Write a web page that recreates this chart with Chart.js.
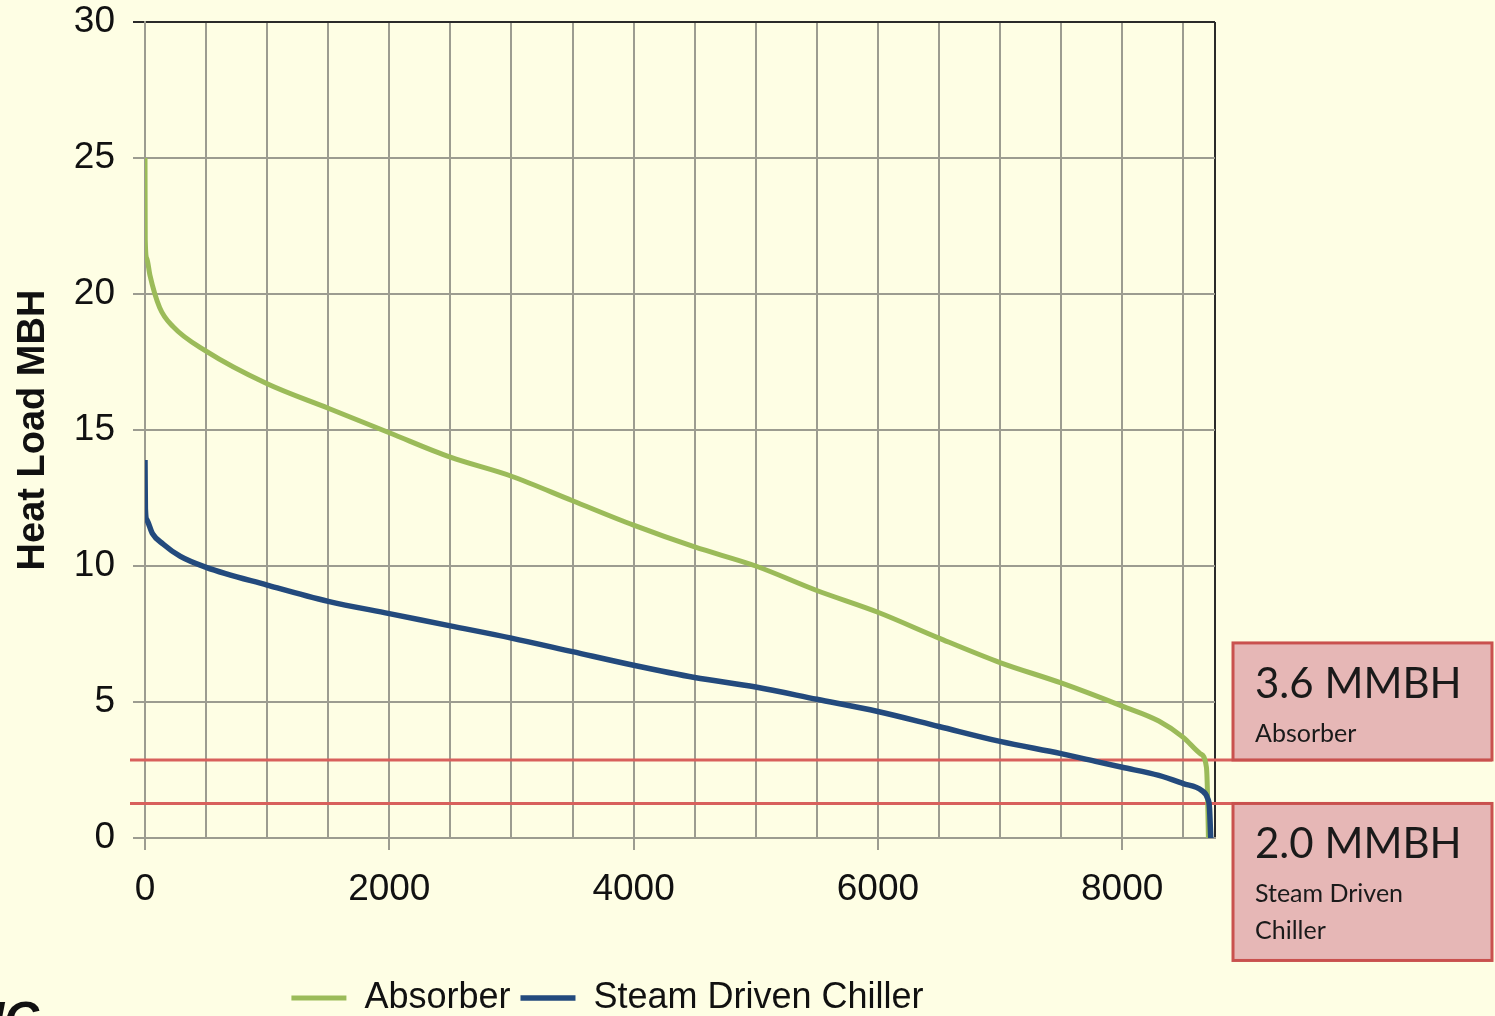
<!DOCTYPE html>
<html>
<head>
<meta charset="utf-8">
<script src="https://cdn.jsdelivr.net/npm/chart.js@4"></script>
<style>
  html,body{margin:0;padding:0;background:#fefee4;overflow:hidden}
  #wrap{position:relative;width:1495px;height:1016px}
  #frag{position:absolute;left:-9px;top:995px;font:italic bold 48px "Liberation Sans",Arial,sans-serif;line-height:1;color:#111}
</style>
</head>
<body>
<div id="wrap"><canvas id="c"></canvas><div id="frag">IC</div></div>
<script>
// load duration curves, hours of the year vs heat load
const absorberHours = [0, 2, 15, 40, 120, 230, 500, 1000, 1500, 2000, 2500, 3000, 3500, 4000, 4500, 5000, 5500, 6000, 6500, 7000, 7500, 8000, 8300, 8500, 8640, 8690, 8700, 8706];
const absorberLoad  = [25, 22, 21.3, 20.7, 19.5, 18.8, 17.9, 16.7, 15.8, 14.9, 14.0, 13.3, 12.4, 11.5, 10.7, 10.0, 9.1, 8.3, 7.35, 6.45, 5.7, 4.85, 4.3, 3.7, 3.1, 2.6, 1.4, 0];
const chillerHours  = [0, 3, 15, 60, 150, 290, 500, 1000, 1500, 2000, 2500, 3000, 3500, 4000, 4500, 5000, 5500, 6000, 6500, 7000, 7500, 7800, 8000, 8300, 8500, 8650, 8700, 8715, 8725];
const chillerLoad   = [13.9, 12.1, 11.7, 11.2, 10.8, 10.35, 9.95, 9.3, 8.7, 8.25, 7.8, 7.35, 6.85, 6.35, 5.9, 5.55, 5.1, 4.65, 4.1, 3.55, 3.1, 2.8, 2.6, 2.3, 2.0, 1.75, 1.45, 1.1, 0];
const seriesNames = ['Absorber', 'Steam Driven Chiller'];
const hourGrid = [0, 500, 1000, 1500, 2000, 2500, 3000, 3500, 4000, 4500, 5000, 5500, 6000, 6500, 7000, 7500, 8000, 8500, 8760];
const hourLabels = [0, 2000, 4000, 6000, 8000];
const loadTicks = [0, 5, 10, 15, 20, 25, 30];
const thresholds = [2.87, 1.27];
const boxTitles = ['3.6 MMBH', '2.0 MMBH'];
const boxNotes = [['Absorber'], ['Steam Driven', 'Chiller']];

const hourMax = hourGrid[hourGrid.length - 1];
const loadMax = loadTicks[loadTicks.length - 1];
const pts = (xs, ys) => xs.map((x, i) => ({x: x, y: ys[i]}));
const GRID = '#9c9c90', DARK = '#2a2a2a';
const FONT = '"Liberation Sans", Arial, sans-serif';

const markers = {
  id: 'markers',
  beforeDatasetsDraw(chart){
    const {ctx, scales:{y}} = chart;
    ctx.save();
    ctx.strokeStyle = '#d8605c'; ctx.lineWidth = 3;
    thresholds.forEach((v, i) => {
      const py = y.getPixelForValue(v);
      ctx.beginPath(); ctx.moveTo(130, py); ctx.lineTo(i === 0 ? 1492 : 1233, py); ctx.stroke();
    });
    ctx.restore();
  },
  afterDraw(chart){
    const {ctx, scales:{y}} = chart;
    const y1 = y.getPixelForValue(thresholds[0]), y2 = y.getPixelForValue(thresholds[1]);
    const boxes = [{top: y1 - 117, h: 117}, {top: y2, h: 157}];
    ctx.save();
    boxes.forEach((b, i) => {
      ctx.fillStyle = '#e6b7b6'; ctx.fillRect(1233, b.top, 259, b.h);
      ctx.strokeStyle = '#c9514e'; ctx.lineWidth = 3; ctx.strokeRect(1233, b.top, 259, b.h);
      ctx.fillStyle = '#1a1a1a'; ctx.textAlign = 'left'; ctx.textBaseline = 'alphabetic';
      ctx.font = '42px Lato, "Open Sans", sans-serif';
      ctx.fillText(boxTitles[i], 1255, b.top + 55);
      ctx.font = '25px Lato, "Open Sans", sans-serif';
      boxNotes[i].forEach((t, k) => ctx.fillText(t, 1255, b.top + 99 + k * 37));
    });
    ctx.restore();
  }
};

new Chart(document.getElementById('c'), {
  type: 'line',
  data: {
    datasets: [
      {label: seriesNames[0], data: pts(absorberHours, absorberLoad), borderColor: '#9bbb59', backgroundColor: '#9bbb59', borderWidth: 5, pointRadius: 0, cubicInterpolationMode: 'monotone', order: 2},
      {label: seriesNames[1], data: pts(chillerHours, chillerLoad), borderColor: '#234a7d', backgroundColor: '#234a7d', borderWidth: 5.5, pointRadius: 0, cubicInterpolationMode: 'monotone', order: 1}
    ]
  },
  options: {
    responsive: true, maintainAspectRatio: false, animation: false,
    layout: {padding: {left: 0, right: 280, top: 22, bottom: -10}},
    plugins: {
      tooltip: {enabled: false},
      legend: {
        position: 'bottom',
        labels: {usePointStyle: true, pointStyle: 'line', pointStyleWidth: 55, padding: 10, color: '#111',
          font: {family: FONT, size: 36},
          sort: (a, b) => a.datasetIndex - b.datasetIndex}
      }
    },
    scales: {
      x: {
        type: 'linear', min: 0, max: hourMax,
        afterFit: s => { s.height = 132; },
        afterBuildTicks: s => { s.ticks = hourGrid.map(v => ({value: v})); },
        ticks: {autoSkip: false, maxRotation: 0, padding: 18, color: '#111',
          font: {family: FONT, size: 37},
          callback: v => hourLabels.includes(v) ? v : ''},
        grid: {lineWidth: 2, tickLength: 12,
          color: c => c.tick && c.tick.value === hourMax ? DARK : GRID,
          tickColor: c => c.tick && hourLabels.includes(c.tick.value) ? GRID : 'transparent'},
        border: {color: GRID, width: 2}
      },
      y: {
        min: 0, max: loadMax,
        afterFit: s => { s.width = 145; s.paddingTop = 0; },
        afterBuildTicks: s => { s.ticks = loadTicks.map(v => ({value: v})); },
        ticks: {padding: 18, color: '#111', font: {family: FONT, size: 37}},
        grid: {lineWidth: 2, tickLength: 12,
          color: c => c.tick && c.tick.value === loadMax ? DARK : GRID,
          tickColor: c => c.tick && c.tick.value === loadMax ? DARK : GRID},
        border: {color: GRID, width: 2},
        title: {display: true, text: 'Heat Load MBH', color: '#111', padding: {top: 11, bottom: 0},
          font: {family: FONT, size: 38, weight: 'bold'}}
      }
    }
  },
  plugins: [markers]
});
</script>
</body>
</html>
